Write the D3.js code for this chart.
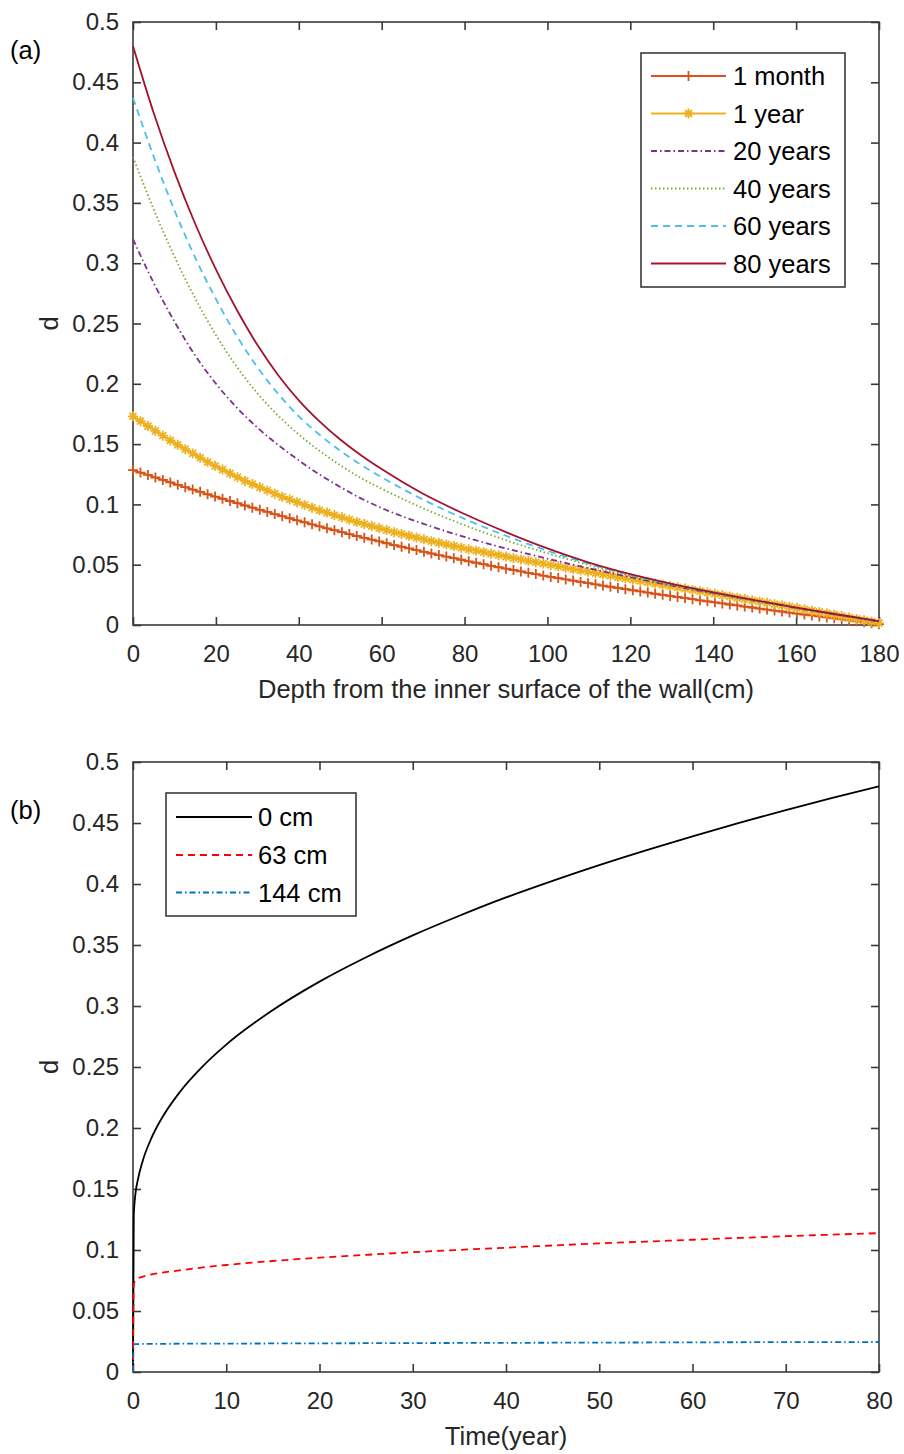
<!DOCTYPE html>
<html>
<head>
<meta charset="utf-8">
<script src="https://cdn.jsdelivr.net/npm/d3@7"></script>
<style>
  html, body { margin: 0; padding: 0; background: #fff; }
  svg { display: block; }
  text { font-family: "Liberation Sans", Arial, Helvetica, sans-serif; }
</style>
</head>
<body>
<svg id="fig" width="904" height="1454"></svg>
<script>
// ---------- Panel (a): damage profile through the wall ----------
// fine depth grid (cm) used by the marked series
const depthFine = d3.range(101).map(i => +(i * 1.8).toFixed(1));
// coarse depth grid (cm) for the unmarked series, denser near the surface
const depthCoarse = [0, 5, 10, 15, 20, 25, 30, 35, 40, 45, 50, 55, 60,
                     70, 80, 90, 100, 110, 120, 130, 140, 150, 160, 170, 180];

const dMonth1 = [
  0.1285, 0.1264, 0.1244, 0.1223, 0.1203, 0.1182, 0.1162, 0.1143, 0.1123, 0.1104,
  0.1084, 0.1065, 0.1047, 0.1028, 0.1010, 0.0991, 0.0973, 0.0955, 0.0938, 0.0920,
  0.0902, 0.0885, 0.0868, 0.0852, 0.0835, 0.0818, 0.0802, 0.0786, 0.0770, 0.0754,
  0.0738, 0.0723, 0.0708, 0.0693, 0.0678, 0.0663, 0.0649, 0.0635, 0.0621, 0.0607,
  0.0593, 0.0580, 0.0567, 0.0554, 0.0541, 0.0528, 0.0516, 0.0504, 0.0491, 0.0479,
  0.0467, 0.0456, 0.0444, 0.0433, 0.0422, 0.0410, 0.0399, 0.0389, 0.0378, 0.0368,
  0.0357, 0.0347, 0.0337, 0.0327, 0.0317, 0.0307, 0.0297, 0.0288, 0.0278, 0.0269,
  0.0259, 0.0250, 0.0241, 0.0232, 0.0223, 0.0214, 0.0205, 0.0196, 0.0188, 0.0179,
  0.0170, 0.0162, 0.0153, 0.0145, 0.0136, 0.0128, 0.0120, 0.0112, 0.0103, 0.0095,
  0.0087, 0.0079, 0.0071, 0.0063, 0.0055, 0.0047, 0.0039, 0.0031, 0.0023, 0.0015,
  0.0007
];
const dYear1 = [
  0.1730, 0.1690, 0.1650, 0.1610, 0.1570, 0.1530, 0.1494, 0.1458, 0.1423, 0.1387,
  0.1351, 0.1320, 0.1289, 0.1257, 0.1226, 0.1195, 0.1169, 0.1142, 0.1116, 0.1089,
  0.1063, 0.1041, 0.1018, 0.0996, 0.0973, 0.0951, 0.0932, 0.0912, 0.0893, 0.0873,
  0.0854, 0.0837, 0.0820, 0.0804, 0.0787, 0.0770, 0.0755, 0.0740, 0.0725, 0.0710,
  0.0695, 0.0682, 0.0668, 0.0655, 0.0641, 0.0628, 0.0616, 0.0604, 0.0591, 0.0579,
  0.0567, 0.0555, 0.0544, 0.0532, 0.0521, 0.0509, 0.0498, 0.0487, 0.0475, 0.0464,
  0.0453, 0.0442, 0.0431, 0.0420, 0.0409, 0.0398, 0.0387, 0.0376, 0.0366, 0.0355,
  0.0344, 0.0333, 0.0323, 0.0312, 0.0302, 0.0291, 0.0280, 0.0269, 0.0259, 0.0248,
  0.0237, 0.0226, 0.0216, 0.0205, 0.0195, 0.0184, 0.0173, 0.0162, 0.0152, 0.0141,
  0.0130, 0.0119, 0.0108, 0.0096, 0.0085, 0.0074, 0.0062, 0.0050, 0.0039, 0.0027,
  0.0015
];
const dYears20 = [0.3200, 0.2836, 0.2516, 0.2235, 0.2002, 0.1804, 0.1637, 0.1494, 0.1365,
                  0.1248, 0.1145, 0.1050, 0.0970,
                  0.0840, 0.0730, 0.0635, 0.0550, 0.0470, 0.0396, 0.0327, 0.0262, 0.0201, 0.0142, 0.0084, 0.0027];
const dYears40 = [0.3880, 0.3447, 0.3055, 0.2709, 0.2405, 0.2143, 0.1922, 0.1737, 0.1580,
                  0.1444, 0.1325, 0.1219, 0.1130,
                  0.0968, 0.0828, 0.0703, 0.0595, 0.0497, 0.0408, 0.0331, 0.0263, 0.0200, 0.0141, 0.0084, 0.0028];
const dYears60 = [0.4370, 0.3884, 0.3439, 0.3047, 0.2703, 0.2399, 0.2138, 0.1918, 0.1730,
                  0.1578, 0.1445, 0.1328, 0.1225,
                  0.1040, 0.0880, 0.0740, 0.0615, 0.0508, 0.0416, 0.0337, 0.0268, 0.0204, 0.0143, 0.0086, 0.0030];
const dYears80 = [0.4800, 0.4245, 0.3757, 0.3327, 0.2949, 0.2616, 0.2323, 0.2073, 0.1863,
                  0.1688, 0.1538, 0.1408, 0.1293,
                  0.1088, 0.0920, 0.0770, 0.0635, 0.0518, 0.0422, 0.0342, 0.0271, 0.0206, 0.0145, 0.0087, 0.0032];

const depthTicks = [0, 20, 40, 60, 80, 100, 120, 140, 160, 180];

// ---------- Panel (b): damage growth at three depths ----------
const timeYears = [0, 0.0833, 0.25, 0.5, 1, 2, 3, 5, 7.5, 10, 15, 20, 25, 30, 35, 40, 45, 50, 55, 60, 65, 70, 75, 80];
const dAt0cm   = [0, 0.1280, 0.1454, 0.1568, 0.1720, 0.1921, 0.2069, 0.2293, 0.2507, 0.2683, 0.2967, 0.3200,
                  0.3400, 0.3579, 0.3740, 0.3890, 0.4026, 0.4155, 0.4276, 0.4391, 0.4501, 0.4606, 0.4706, 0.4800];
const dAt63cm  = [0, 0.0715, 0.0750, 0.0765, 0.0780, 0.0800, 0.0813, 0.0833, 0.0857, 0.0877, 0.0910, 0.0937,
                  0.0960, 0.0982, 0.1001, 0.1019, 0.1037, 0.1054, 0.1069, 0.1084, 0.1099, 0.1113, 0.1126, 0.1138];
const dAt144cm = [0, 0.0226, 0.0228, 0.0229, 0.0230, 0.0231, 0.0231, 0.0232, 0.0233, 0.0233, 0.0234, 0.0235,
                  0.0236, 0.0237, 0.0238, 0.0239, 0.0240, 0.0241, 0.0242, 0.0243, 0.0244, 0.0245, 0.0245, 0.0246];

const timeTicks = [0, 10, 20, 30, 40, 50, 60, 70, 80];
const dTicks = [0, 0.05, 0.1, 0.15, 0.2, 0.25, 0.3, 0.35, 0.4, 0.45, 0.5];

// ---------- drawing ----------
const svg = d3.select("#fig");
const AXIS = "#3a3a3a";
const TICK_FONT = 24;
const LABEL_FONT = 25.5;
const TICK_LEN = 8;
const LINE_W = 1.8;

const plusPath = "M-5,0H5M0,-5V5";
const starPath = "M-5,0H5M0,-5V5M-3.5,-3.5L3.5,3.5M-3.5,3.5L3.5,-3.5";

function drawAxes(g, x, y, xTicks, xLabel, w, h) {
  const fmt = d3.format("~g");
  const bx = g.append("g").attr("transform", `translate(0,${h})`)
    .call(d3.axisBottom(x).tickValues(xTicks).tickSize(-TICK_LEN).tickPadding(14).tickFormat(fmt));
  const ly = g.append("g")
    .call(d3.axisLeft(y).tickValues(dTicks).tickSize(-TICK_LEN).tickPadding(14).tickFormat(fmt));
  const tx = g.append("g").call(d3.axisTop(x).tickValues(xTicks).tickSize(-TICK_LEN).tickFormat(""));
  const ry = g.append("g").attr("transform", `translate(${w},0)`)
    .call(d3.axisRight(y).tickValues(dTicks).tickSize(-TICK_LEN).tickFormat(""));
  [bx, ly, tx, ry].forEach(a => {
    a.select(".domain").remove();
    a.selectAll(".tick line").attr("stroke", AXIS).attr("stroke-width", 1.6);
    a.selectAll(".tick text").attr("fill", "#262626").attr("font-size", TICK_FONT)
      .attr("font-family", "Liberation Sans, Arial, sans-serif");
  });
  bx.selectAll(".tick text").attr("dy", "0.95em");
  g.append("rect").attr("x", 0).attr("y", 0).attr("width", w).attr("height", h)
    .attr("fill", "none").attr("stroke", AXIS).attr("stroke-width", 1.6);
  g.append("text").attr("x", w / 2).attr("y", h + 73).attr("text-anchor", "middle")
    .attr("font-size", LABEL_FONT).attr("fill", "#262626").text(xLabel);
  g.append("text").attr("transform", `translate(-75,${h / 2}) rotate(-90)`)
    .attr("text-anchor", "middle").attr("font-size", LABEL_FONT).attr("fill", "#262626").text("d");
}

function drawLegend(g, items, x0, y0, w, h, lineX0, lineX1, textX, rowY) {
  const lg = g.append("g");
  lg.append("rect").attr("x", x0).attr("y", y0).attr("width", w).attr("height", h)
    .attr("fill", "#fff").attr("stroke", AXIS).attr("stroke-width", 1.6);
  items.forEach((it, i) => {
    const yy = rowY[i];
    lg.append("line").attr("x1", lineX0).attr("x2", lineX1).attr("y1", yy).attr("y2", yy)
      .attr("stroke", it.color).attr("stroke-width", LINE_W)
      .attr("stroke-dasharray", it.dash || null);
    if (it.marker) {
      lg.append("path").attr("d", it.marker)
        .attr("transform", `translate(${(lineX0 + lineX1) / 2},${yy})`)
        .attr("stroke", it.color).attr("stroke-width", 1.8).attr("fill", "none");
    }
    lg.append("text").attr("x", textX).attr("y", yy).attr("dy", "0.36em")
      .attr("font-size", LABEL_FONT).attr("fill", "#000").text(it.label);
  });
}

// ----- panel (a) -----
const A = { left: 133, top: 22, w: 746, h: 603 };
const gA = svg.append("g").attr("transform", `translate(${A.left},${A.top})`);
const xA = d3.scaleLinear().domain([0, 180]).range([0, A.w]);
const yA = d3.scaleLinear().domain([0, 0.5]).range([A.h, 0]);

const seriesA = [
  { label: "1 month",  xs: depthFine,   ys: dMonth1,  color: "#D95319", marker: plusPath },
  { label: "1 year",   xs: depthFine,   ys: dYear1,   color: "#EDB120", marker: starPath },
  { label: "20 years", xs: depthCoarse, ys: dYears20, color: "#7E2F8E", dash: "6,3,1.5,3" },
  { label: "40 years", xs: depthCoarse, ys: dYears40, color: "#77AC30", dash: "1.5,2.5" },
  { label: "60 years", xs: depthCoarse, ys: dYears60, color: "#4DBEEE", dash: "7,5" },
  { label: "80 years", xs: depthCoarse, ys: dYears80, color: "#A2142F" }
];

drawAxes(gA, xA, yA, depthTicks, "Depth from the inner surface of the wall(cm)", A.w, A.h);

seriesA.forEach(s => {
  const pts = s.xs.map((x, i) => [x, s.ys[i]]);
  const line = d3.line().x(d => xA(d[0])).y(d => yA(d[1]))
    .curve(s.marker ? d3.curveLinear : d3.curveMonotoneX);
  gA.append("path").datum(pts).attr("d", line).attr("fill", "none")
    .attr("stroke", s.color).attr("stroke-width", LINE_W)
    .attr("stroke-dasharray", s.dash || null);
  if (s.marker) {
    gA.append("g").selectAll("path").data(pts).join("path")
      .attr("d", s.marker)
      .attr("transform", d => `translate(${xA(d[0])},${yA(d[1])})`)
      .attr("stroke", s.color).attr("stroke-width", 1.8).attr("fill", "none");
  }
});

drawLegend(svg, seriesA, 641, 53, 204, 234, 651, 726, 733,
  [76, 113.5, 151, 188.5, 226, 263.5]);

svg.append("text").attr("x", 10).attr("y", 59).attr("font-size", LABEL_FONT)
  .attr("fill", "#000").text("(a)");

// ----- panel (b) -----
const B = { left: 133, top: 762, w: 746, h: 610 };
const gB = svg.append("g").attr("transform", `translate(${B.left},${B.top})`);
const xB = d3.scaleLinear().domain([0, 80]).range([0, B.w]);
const yB = d3.scaleLinear().domain([0, 0.5]).range([B.h, 0]);

const seriesB = [
  { label: "0 cm",   ys: dAt0cm,   color: "#000000" },
  { label: "63 cm",  ys: dAt63cm,  color: "#FF0000", dash: "7,5" },
  { label: "144 cm", ys: dAt144cm, color: "#0072BD", dash: "6,3,1.5,3" }
];

drawAxes(gB, xB, yB, timeTicks, "Time(year)", B.w, B.h);

seriesB.forEach(s => {
  const pts = timeYears.map((t, i) => [t, s.ys[i]]);
  const line = d3.line().x(d => xB(d[0])).y(d => yB(d[1])).curve(d3.curveMonotoneX);
  gB.append("path").datum(pts).attr("d", line).attr("fill", "none")
    .attr("stroke", s.color).attr("stroke-width", LINE_W)
    .attr("stroke-dasharray", s.dash || null);
});

drawLegend(svg, seriesB, 166, 793, 190, 123, 176, 252, 258, [817, 855, 892.5]);

svg.append("text").attr("x", 10).attr("y", 819).attr("font-size", LABEL_FONT)
  .attr("fill", "#000").text("(b)");
</script>
</body>
</html>
